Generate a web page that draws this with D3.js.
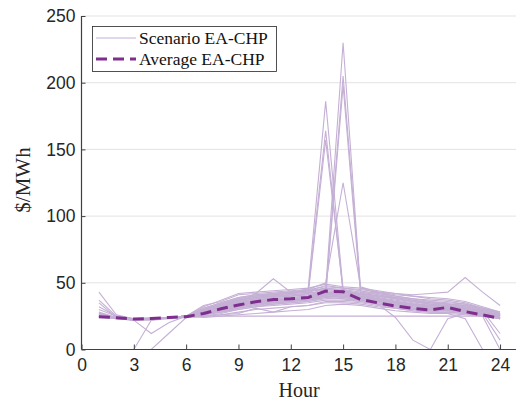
<!DOCTYPE html>
<html>
<head>
<meta charset="utf-8">
<script src="https://cdn.jsdelivr.net/npm/d3@7"></script>
<style>
  body { margin: 0; background: #fff; }
  svg { display: block; }
</style>
</head>
<body>
<div id="chart"></div>
<script>
const width = 516,
  height = 405;

const hours = d3.range(1, 25);
const xTicks = [0, 3, 6, 9, 12, 15, 18, 21, 24];
const yTicks = [0, 50, 100, 150, 200, 250];

// scenario price curves, $/MWh for hours 1..24
const scenarios = [
  [43, 26, 23, 23, 24, 25, 30, 34, 38, 40, 41, 42, 43, 46, 44, 42, 40, 38, 36, 35, 34, 33, 30, 27],
  [37, 25, 23, 23, 24, 25, 31, 35, 39, 41, 42, 43, 44, 48, 46, 44, 42, 40, 38, 37, 36, 34, 31, 28],
  [35, 24, 22, 23, 24, 25, 29, 33, 36, 38, 40, 40, 41, 44, 43, 41, 39, 37, 35, 33, 33, 31, 28, 26],
  [32, 25, 23, 24, 24, 25, 28, 31, 34, 36, 37, 38, 39, 42, 41, 39, 37, 35, 33, 32, 31, 30, 28, 25],
  [28, 24, 23, 23, 24, 25, 27, 30, 33, 35, 36, 37, 38, 40, 40, 38, 36, 34, 32, 31, 30, 29, 27, 25],
  [26, 24, 23, 23, 24, 25, 26, 29, 32, 34, 35, 36, 37, 39, 38, 37, 35, 33, 31, 30, 30, 28, 26, 24],
  [25, 24, 22, 23, 24, 24, 25, 27, 30, 32, 33, 34, 35, 37, 37, 36, 34, 32, 30, 29, 29, 28, 26, 24],
  [25, 23, 22, 22, 23, 24, 25, 26, 28, 30, 31, 32, 33, 35, 35, 34, 32, 31, 29, 28, 28, 27, 25, 23],
  [24, 24, 23, 23, 24, 25, 25, 25, 25, 25, 25, 25, 25, 25, 25, 25, 25, 25, 25, 25, 25, 25, 25, 25],
  [25, 24, 23, 23, 24, 25, 33, 36, 41, 42, 43, 44, 45, 47, 46, 45, 43, 41, 40, 38, 37, 35, 31, 27],
  [26, 24, 22, 23, 24, 25, 32, 37, 42, 43, 44, 45, 46, 49, 47, 46, 44, 42, 40, 39, 38, 36, 32, 28],
  [24, 23, 22, 23, 24, 25, 24, 25, 26, 27, 28, 29, 30, 33, 34, 33, 31, 29, 28, 27, 27, 26, 25, 23],
  [25, 24, 23, 23, 24, 25, 26, 28, 31, 33, 35, 36, 38, 41, 42, 40, 38, 36, 34, 33, 32, 31, 28, 26],
  [25, 24, 23, 23, 24, 25, 28, 31, 36, 42, 53, 43, 44, 45, 44, 42, 40, 39, 38, 36, 35, 34, 30, 27],
  [25, 24, 23, 23, 24, 25, 27, 30, 33, 36, 38, 39, 40, 42, 42, 41, 43, 42, 41, 42, 43, 54, 43, 33],
  [25, 24, 23, 23, 24, 25, 25, 26, 27, 31, 28, 32, 33, 36, 36, 35, 33, 31, 29, 28, 28, 27, 26, 24],
  [26, 24, 23, 23, 24, 25, 27, 29, 32, 34, 35, 36, 37, 40, 39, 37, 34, 24, 7, 0, 23, 27, 25, 24],
  [27, 24, 23, 23, 24, 25, 28, 31, 34, 36, 37, 38, 39, 42, 41, 39, 36, 33, 31, 29, 27, 23, 0, 0],
  [25, 24, 23, 23, 24, 25, 27, 30, 33, 35, 36, 37, 38, 41, 40, 38, 35, 33, 31, 30, 29, 28, 25, 0],
  [30, 25, 23, 23, 24, 25, 28, 32, 35, 37, 38, 39, 40, 43, 42, 40, 37, 35, 33, 32, 31, 30, 27, 7],
  [27, 24, 23, 23, 24, 25, 29, 33, 37, 39, 40, 41, 42, 45, 44, 42, 39, 36, 34, 33, 32, 31, 29, 12],
  [0, 0, 0, 22, 24, 25, 27, 30, 34, 36, 37, 38, 39, 42, 41, 39, 37, 35, 33, 32, 31, 30, 27, 25],
  [0, 0, 0, 0, 12, 24, 26, 29, 32, 34, 36, 37, 38, 40, 40, 38, 36, 34, 32, 31, 31, 29, 26, 24],
  [27, 24, 22, 12, 20, 25, 27, 30, 33, 35, 37, 38, 39, 41, 41, 39, 37, 35, 33, 32, 31, 30, 27, 25],
  [25, 24, 23, 23, 24, 25, 31, 35, 39, 41, 42, 43, 44, 46, 45, 43, 41, 39, 37, 35, 34, 33, 30, 27],
  [26, 24, 23, 23, 24, 25, 29, 32, 35, 37, 39, 40, 41, 43, 43, 42, 40, 38, 36, 34, 33, 32, 29, 26],
  [24, 24, 23, 23, 24, 25, 26, 28, 30, 32, 34, 35, 36, 38, 39, 38, 36, 34, 32, 31, 30, 29, 26, 24],
  [25, 24, 23, 23, 24, 25, 27, 29, 31, 33, 34, 35, 36, 39, 38, 36, 34, 32, 30, 30, 29, 28, 26, 25],
  [25, 24, 23, 23, 24, 25, 28, 32, 36, 38, 40, 41, 46, 186, 45, 41, 38, 36, 34, 33, 32, 31, 28, 26],
  [26, 24, 23, 23, 24, 25, 29, 33, 37, 39, 41, 42, 44, 164, 43, 40, 38, 36, 34, 33, 32, 30, 27, 25],
  [25, 24, 23, 23, 24, 25, 28, 32, 35, 37, 39, 40, 42, 157, 44, 41, 38, 36, 34, 32, 31, 30, 27, 25],
  [25, 24, 23, 23, 24, 25, 30, 34, 38, 40, 42, 43, 44, 45, 230, 44, 41, 38, 36, 34, 33, 31, 28, 26],
  [26, 24, 23, 23, 24, 25, 29, 33, 37, 39, 41, 42, 43, 42, 205, 46, 42, 39, 37, 35, 34, 32, 29, 26],
  [25, 24, 23, 23, 24, 25, 28, 32, 36, 38, 40, 41, 42, 40, 198, 42, 40, 38, 36, 34, 33, 31, 28, 25],
  [26, 24, 23, 23, 24, 25, 30, 34, 38, 40, 42, 43, 45, 50, 125, 47, 43, 40, 38, 36, 34, 33, 29, 26]
];

// average curve, hours 1..24
const average = [24.6, 23.8, 22.9, 23.3, 24, 24.6, 27, 30.5, 33.4, 35.8, 37.4, 38, 39, 43.8, 43.3, 37.5, 35, 32.6, 30.8, 29.6, 31.6, 28.4, 25.9, 23.3];

const scenColor = "#c5b0d5";
const avgColor = "#7e2f8e";

const x = d3.scaleLinear().domain([0, 25]).range([81.5, 517.5]);
const y = d3.scaleLinear().domain([0, 250]).range([349.5, 16]);

const svg = d3
  .select("#chart")
  .append("svg")
  .attr("width", width)
  .attr("height", height);

// grid
svg
  .append("g")
  .selectAll("line")
  .data(yTicks.filter((d) => d > 0))
  .enter()
  .append("line")
  .attr("x1", x(0))
  .attr("x2", width)
  .attr("y1", (d) => y(d))
  .attr("y2", (d) => y(d))
  .attr("stroke", "#e3e3e3")
  .attr("stroke-width", 1);

const line = d3
  .line()
  .x((d, i) => x(hours[i]))
  .y((d) => y(d));

svg
  .append("g")
  .selectAll("path")
  .data(scenarios)
  .enter()
  .append("path")
  .attr("d", line)
  .attr("fill", "none")
  .attr("stroke", scenColor)
  .attr("stroke-width", 1.1);

svg
  .append("path")
  .datum(average)
  .attr("d", line)
  .attr("fill", "none")
  .attr("stroke", avgColor)
  .attr("stroke-width", 3)
  .attr("stroke-dasharray", "11,6");

// axes
const xAxis = svg
  .append("g")
  .attr("transform", `translate(0,${y(0)})`)
  .call(d3.axisBottom(x).tickValues(xTicks).tickSize(-5).tickPadding(9));

const yAxis = svg
  .append("g")
  .attr("transform", `translate(${x(0)},0)`)
  .call(d3.axisLeft(y).tickValues(yTicks).tickSize(-4).tickPadding(6));

[xAxis, yAxis].forEach((g) => {
  g.select(".domain").remove();
  g.selectAll("line").attr("stroke", "#404040");
  g.selectAll("text")
    .attr("fill", "#262626")
    .style("font-family", "'Liberation Sans', Arial, sans-serif")
    .style("font-size", "17.5px");
});

svg
  .append("line")
  .attr("x1", x(0))
  .attr("x2", width)
  .attr("y1", y(0))
  .attr("y2", y(0))
  .attr("stroke", "#404040")
  .attr("stroke-width", 1.2);

svg
  .append("line")
  .attr("x1", x(0))
  .attr("x2", x(0))
  .attr("y1", y(0))
  .attr("y2", y(250))
  .attr("stroke", "#404040")
  .attr("stroke-width", 1.2);

const serif = "'Liberation Serif', 'DejaVu Serif', serif";

svg
  .append("text")
  .attr("x", 299)
  .attr("y", 397)
  .attr("text-anchor", "middle")
  .style("font-family", serif)
  .style("font-size", "20px")
  .attr("fill", "#262626")
  .text("Hour");

svg
  .append("text")
  .attr("transform", "translate(30,180) rotate(-90)")
  .attr("text-anchor", "middle")
  .style("font-family", serif)
  .style("font-size", "21px")
  .attr("fill", "#262626")
  .text("$/MWh");

// legend
const legend = svg.append("g");

legend
  .append("rect")
  .attr("x", 92.5)
  .attr("y", 26.5)
  .attr("width", 184)
  .attr("height", 45)
  .attr("fill", "#fff")
  .attr("stroke", "#262626")
  .attr("stroke-width", 0.8);

const legendItems = [
  { label: "Scenario EA-CHP", color: scenColor, w: 1, dash: null },
  { label: "Average EA-CHP", color: avgColor, w: 3, dash: "11,6" }
];

legendItems.forEach((d, i) => {
  const ly = 38 + i * 21;
  legend
    .append("line")
    .attr("x1", 96)
    .attr("x2", 136)
    .attr("y1", ly)
    .attr("y2", ly)
    .attr("stroke", d.color)
    .attr("stroke-width", d.w)
    .attr("stroke-dasharray", d.dash);
  legend
    .append("text")
    .attr("x", 139)
    .attr("y", ly + 6)
    .style("font-family", serif)
    .style("font-size", "17.5px")
    .attr("fill", "#111")
    .text(d.label);
});
</script>
</body>
</html>
